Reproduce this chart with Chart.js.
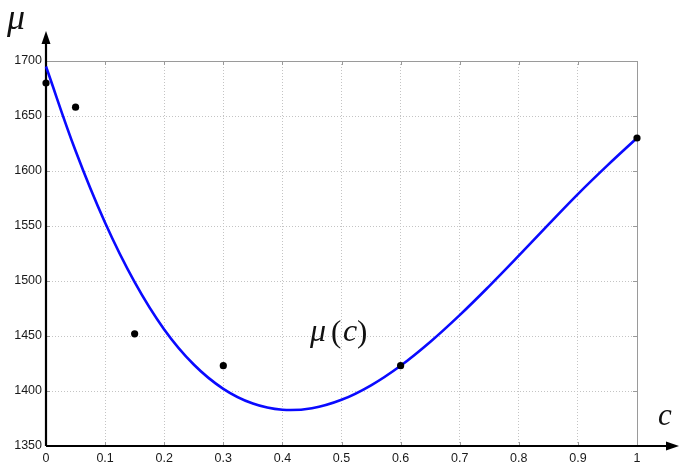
<!DOCTYPE html>
<html><head><meta charset="utf-8">
<script src="https://cdn.jsdelivr.net/npm/chart.js@4.4.0/dist/chart.umd.min.js"></script>
<style>html,body{margin:0;padding:0;background:#fff}#wrap{width:679px;height:463px;position:relative}</style>
</head><body><div id="wrap"><canvas id="c" width="679" height="463"></canvas></div>
<script>
const curveC  = [0,0.05,0.1,0.15,0.2,0.25,0.3,0.35,0.4,0.45,0.5,0.55,0.6,0.65,0.7,0.75,0.8,0.85,0.9,0.95,1.0];
const curveMu = [1695,1618.4,1553,1499,1456,1424.1,1402,1388.6,1383,1384.4,1392,1405.2,1423,1444.6,1469,1495.4,1523,1551.2,1579,1605.1,1630];
const pointC  = [0,0.05,0.15,0.3,0.6,1];
const pointMu = [1680,1658,1452,1423,1423,1630];
const xTicks = [0,0.1,0.2,0.3,0.4,0.5,0.6,0.7,0.8,0.9,1];
const xTickLabels = ['0','0.1','0.2','0.3','0.4','0.5','0.6','0.7','0.8','0.9','1'];
const yTicks = [1350,1400,1450,1500,1550,1600,1650,1700];
const yTickLabels = ['1350','1400','1450','1500','1550','1600','1650','1700'];

const axesPlugin = {
  id: 'axesPlugin',
  beforeDatasetsDraw(chart) {
    const {ctx, chartArea: a, scales: {x, y}} = chart;
    ctx.save();
    ctx.strokeStyle = '#9a9a9a';
    ctx.lineWidth = 1;
    ctx.beginPath();
    ctx.moveTo(a.left, a.top + 0.5); ctx.lineTo(a.right + 0.5, a.top + 0.5);
    ctx.lineTo(a.right + 0.5, a.bottom);
    ctx.stroke();
    ctx.beginPath();
    xTicks.forEach(v => {
      const px = Math.round(x.getPixelForValue(v)) + 0.5;
      ctx.moveTo(px, a.top); ctx.lineTo(px, a.top + 4);
      ctx.moveTo(px, a.bottom); ctx.lineTo(px, a.bottom - 4);
    });
    yTicks.forEach(v => {
      const py = Math.round(y.getPixelForValue(v)) + 0.5;
      ctx.moveTo(a.right, py); ctx.lineTo(a.right - 4, py);
      ctx.moveTo(a.left, py); ctx.lineTo(a.left + 4, py);
    });
    ctx.stroke();
    ctx.strokeStyle = '#000';
    ctx.fillStyle = '#000';
    ctx.lineWidth = 2.2;
    ctx.beginPath();
    ctx.moveTo(a.left, a.bottom); ctx.lineTo(a.left, 40);
    ctx.moveTo(a.left, a.bottom); ctx.lineTo(670, a.bottom);
    ctx.stroke();
    ctx.beginPath();
    ctx.moveTo(a.left, 31); ctx.lineTo(a.left - 4.5, 44); ctx.lineTo(a.left + 4.5, 44); ctx.closePath();
    ctx.fill();
    ctx.beginPath();
    ctx.moveTo(679, a.bottom); ctx.lineTo(666, a.bottom - 4.5); ctx.lineTo(666, a.bottom + 4.5); ctx.closePath();
    ctx.fill();
    ctx.restore();
  },
  afterDraw(chart) {
    const {ctx} = chart;
    ctx.save();
    ctx.fillStyle = '#111';
    ctx.textBaseline = 'alphabetic';
    ctx.font = 'italic 36px "Liberation Serif"';
    ctx.fillText('\u03bc', 7, 29);
    ctx.font = 'italic 31px "Liberation Serif"';
    ctx.fillText('c', 658, 425);
    ctx.font = 'italic 32px "Liberation Serif"';
    ctx.fillText('\u03bc', 310, 341);
    ctx.fillText('c', 343, 341);
    ctx.font = '31px "Liberation Serif"';
    ctx.fillText('(', 331, 342);
    ctx.fillText(')', 357, 342);
    ctx.restore();
  }
};

new Chart(document.getElementById('c'), {
  type: 'scatter',
  data: {
    datasets: [
      {
        label: 'curve',
        data: curveC.map((c, i) => ({x: c, y: curveMu[i]})),
        showLine: true,
        borderColor: '#0a0aff',
        borderWidth: 2.6,
        pointRadius: 0,
        tension: 0.4,
        order: 2
      },
      {
        label: 'points',
        data: pointC.map((c, i) => ({x: c, y: pointMu[i]})),
        showLine: false,
        pointRadius: 3.6,
        pointBackgroundColor: '#000',
        pointBorderColor: '#000',
        pointBorderWidth: 0,
        order: 1
      }
    ]
  },
  options: {
    responsive: false,
    devicePixelRatio: 1,
    animation: false,
    clip: false,
    layout: {padding: {left: 0, top: 61, right: 42, bottom: 0}},
    plugins: {legend: {display: false}, tooltip: {enabled: false}},
    scales: {
      x: {
        type: 'linear', min: 0, max: 1,
        afterBuildTicks: s => { s.ticks = xTicks.map(v => ({value: v})); },
        afterFit: s => { s.height = 17; },
        grid: {color: '#c4c4c4', drawTicks: false, lineWidth: 1},
        border: {display: false, dash: [1, 2]},
        ticks: {
          padding: 5, color: '#1a1a1a', maxRotation: 0, autoSkip: false,
          font: {family: '"Liberation Sans", Arial, sans-serif', size: 12.5},
          callback: (v) => { const i = xTicks.findIndex(t => Math.abs(t - v) < 1e-9); return i >= 0 ? xTickLabels[i] : ''; }
        }
      },
      y: {
        type: 'linear', min: 1350, max: 1700,
        afterBuildTicks: s => { s.ticks = yTicks.map(v => ({value: v})); },
        afterFit: s => { s.width = 46; },
        grid: {color: '#c4c4c4', drawTicks: false, lineWidth: 1},
        border: {display: false, dash: [1, 2]},
        ticks: {
          padding: 4, color: '#1a1a1a', autoSkip: false,
          font: {family: '"Liberation Sans", Arial, sans-serif', size: 12.5},
          callback: (v) => { const i = yTicks.indexOf(v); return i >= 0 ? yTickLabels[i] : ''; }
        }
      }
    }
  },
  plugins: [axesPlugin]
});
</script>
</body></html>
